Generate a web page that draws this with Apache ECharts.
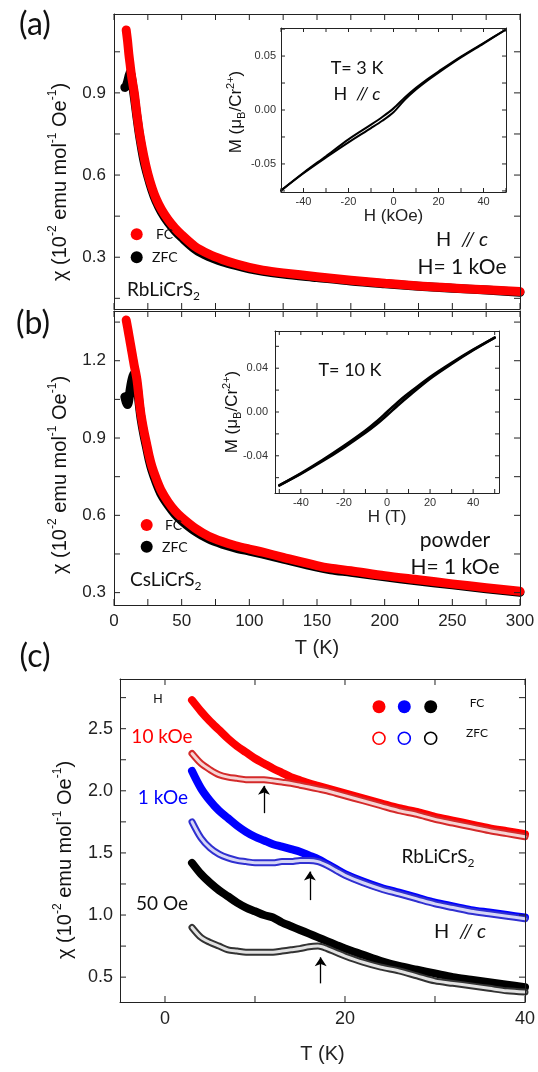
<!DOCTYPE html>
<html>
<head>
<meta charset="utf-8">
<script src="https://cdn.jsdelivr.net/npm/echarts@6/dist/echarts.min.js"></script>
<style>
html,body{margin:0;padding:0;background:#fff;}
#main{width:538px;height:1072px;}
</style>
</head>
<body>
<div id="main"></div>
<script>
// (a) RbLiCrS2, H // c, H = 1 kOe
var aT    = [9,10,11,12,13,14,15,17,19,22,25,28,31,35,40,45,50,60,70,80,90,100,110,125,150,175,200,225,250,275,300];
var aFC   = [1.13,1.09,1.04,1.0,0.96,0.93,0.90,0.82,0.75,0.67,0.605,0.555,0.515,0.475,0.437,0.407,0.382,0.339,0.312,0.292,0.276,0.263,0.253,0.243,0.229,0.216,0.205,0.195,0.188,0.181,0.175];
var aTz   = [8,9,10,11,12,13,14,15,17,19,22,25,28,31,35,40,45,50,60,70,80,90,100,110,125,150,175,200,225,250,275,300];
var aZFC  = [0.92,0.925,0.94,0.96,0.975,0.955,0.92,0.885,0.81,0.74,0.655,0.595,0.545,0.505,0.465,0.427,0.397,0.372,0.329,0.302,0.284,0.27,0.258,0.249,0.239,0.226,0.213,0.203,0.194,0.187,0.18,0.172];
// (a) inset, M-H loop at 3 K
var aH    = [-50,-40,-30,-20,-10,-5,0,5,10,15,20,30,40,50];
var aMup  = [-0.0746,-0.0582,-0.0428,-0.0272,-0.0136,-0.0065,0.0015,0.0115,0.0205,0.0285,0.0357,0.0495,0.0621,0.0746];
var aMdn  = [-0.0747,-0.0586,-0.0440,-0.0300,-0.0168,-0.0100,-0.0020,0.0095,0.0190,0.0272,0.0347,0.0488,0.0616,0.0746];

// (b) CsLiCrS2 powder, H = 1 kOe
var bT    = [9,10,11,12,13,14,15,16,17,18,19,20,22,24,26,28,31,35,40,45,50,60,70,80,90,100,110,125,150,160,175,200,225,250,275,300];
var bFC   = [1.358,1.33,1.30,1.27,1.24,1.21,1.18,1.155,1.125,1.08,1.03,0.99,0.93,0.88,0.83,0.79,0.745,0.695,0.652,0.618,0.592,0.55,0.519,0.498,0.482,0.469,0.457,0.437,0.405,0.395,0.385,0.366,0.35,0.334,0.319,0.305];
var bTz   = [8,9,10,11,12,13,14,15,16,17,18,19,20,22,24,26,28,31,35,40,45,50,60,70,80,90,100,110,125,150,160,175,200,225,250,275,300];
var bZFC  = [1.06,1.04,1.03,1.05,1.09,1.12,1.14,1.15,1.13,1.105,1.06,1.015,0.975,0.915,0.865,0.815,0.775,0.73,0.68,0.639,0.605,0.579,0.538,0.508,0.488,0.473,0.461,0.449,0.430,0.399,0.389,0.379,0.361,0.345,0.33,0.315,0.301];
// (b) inset, M-H at 10 K
var bH    = [-50,-40,-30,-20,-10,-5,0,5,10,20,30,40,50];
var bMup  = [-0.067,-0.056,-0.044,-0.031,-0.017,-0.009,0.0,0.009,0.017,0.032,0.045,0.057,0.068];
var bMdn  = [-0.067,-0.0565,-0.045,-0.0325,-0.019,-0.0115,-0.003,0.006,0.0145,0.0305,0.044,0.0565,0.068];

// (c) RbLiCrS2 low T, three fields
var cT       = [3,4,5,6,7,8,9,10,11,12,13,14,15,16,17,18,19,20,22,24,26,28,30,32,34,36,38,40];
var fc10k    = [2.73,2.64,2.56,2.49,2.42,2.36,2.31,2.26,2.22,2.18,2.145,2.11,2.085,2.06,2.04,2.02,2.0,1.98,1.94,1.90,1.86,1.83,1.79,1.76,1.73,1.70,1.675,1.65];
var zfc10k   = [2.30,2.22,2.17,2.13,2.11,2.10,2.09,2.09,2.09,2.08,2.07,2.06,2.045,2.03,2.015,2.0,1.98,1.96,1.92,1.88,1.84,1.81,1.77,1.74,1.71,1.68,1.655,1.63];
var fc1k     = [2.16,2.02,1.92,1.84,1.78,1.72,1.67,1.63,1.60,1.57,1.55,1.53,1.51,1.48,1.45,1.41,1.37,1.33,1.27,1.22,1.18,1.14,1.10,1.07,1.04,1.02,1.00,0.98];
var zfc1k    = [1.75,1.62,1.54,1.49,1.46,1.44,1.43,1.42,1.42,1.42,1.43,1.43,1.44,1.44,1.43,1.40,1.36,1.32,1.26,1.21,1.17,1.13,1.09,1.06,1.03,1.01,0.99,0.97];
var fc50     = [1.42,1.33,1.26,1.20,1.15,1.10,1.06,1.03,1.00,0.98,0.94,0.91,0.88,0.85,0.82,0.79,0.76,0.73,0.68,0.63,0.59,0.56,0.53,0.50,0.48,0.46,0.44,0.42];
var zfc50    = [0.90,0.82,0.78,0.75,0.72,0.71,0.70,0.70,0.70,0.70,0.71,0.72,0.73,0.745,0.75,0.73,0.70,0.67,0.62,0.58,0.55,0.51,0.47,0.45,0.43,0.41,0.39,0.38];
// transition arrows: T, from, to
var arrowT    = [11, 16.1, 17.3];
var arrowFrom = [1.82, 1.12, 0.45];
var arrowTo   = [2.04, 1.35, 0.66];

// axis ranges
var abXRange  = [0, 300];
var aYRange   = [0.111, 1.188];
var bYRange   = [0.252, 1.393];
var aiXRange  = [-50, 50];
var aiYRange  = [-0.076, 0.076];
var biXRange  = [-52, 52];
var biYRange  = [-0.074, 0.074];
var cXRange   = [-5, 40];
var cYRange   = [0.3, 2.9];

// tick / label positions
var abXTicks  = [0,25,50,75,100,125,150,175,200,225,250,275,300];
var abXLabels = [0,50,100,150,200,250,300];
var aYTicks   = [0.15,0.3,0.45,0.6,0.75,0.9,1.05];
var aYLabels  = [0.3,0.6,0.9];
var bYTicks   = [0.3,0.45,0.6,0.75,0.9,1.05,1.2,1.35];
var bYLabels  = [0.3,0.6,0.9,1.2];
var inXTicks  = [-50,-40,-30,-20,-10,0,10,20,30,40,50];
var inXLabels = [-40,-20,0,20,40];
var aiYTicks  = [-0.075,-0.05,-0.025,0,0.025,0.05,0.075];
var aiYLabels = [-0.05,0,0.05];
var biYTicks  = [-0.06,-0.04,-0.02,0,0.02,0.04,0.06];
var biYLabels = [-0.04,0,0.04];
var cXTicks   = [0,10,20,30,40];
var cXLabels  = [0,20,40];
var cYTicks   = [0.5,0.75,1.0,1.25,1.5,1.75,2.0,2.25,2.5,2.75];
var cYLabels  = [0.5,1.0,1.5,2.0,2.5];

var AX = '#222';
var NUM = 'Liberation Sans';
var ANN = 'Lato';

function pairs(xs, ys) {
    var out = [];
    for (var i = 0; i < xs.length; i++) out.push([xs[i], ys[i]]);
    return out;
}

function ax(grid, pos, range, labels, o) {
    o = o || {};
    var a = {
        type: 'value', gridIndex: grid, position: pos, min: range[0], max: range[1], z: 10,
        axisLine: {show: true, onZero: false, lineStyle: {color: AX, width: 1}},
        axisTick: {show: false},
        axisLabel: {show: !!labels, margin: o.m || 8, fontSize: o.fs || 17, color: o.lc || AX, fontFamily: NUM,
                    formatter: o.fmt || function (v) { return String(v); }},
        splitLine: {show: false}
    };
    if (labels) a.axisLabel.customValues = labels;
    if (o.name) {
        a.name = o.name;
        a.nameLocation = 'middle';
        a.nameGap = o.ng;
        a.nameTextStyle = {fontSize: o.nfs || 20, fontFamily: NUM, color: AX};
    }
    return a;
}

function f1(v) { return v.toFixed(1); }
function f2(v) { return v.toFixed(2); }

var xAxes = [
    ax(0, 'bottom', abXRange, null),
    ax(0, 'top', abXRange, null),
    ax(1, 'bottom', aiXRange, inXLabels, {fs: 11, m: 4, lc: '#333', name: 'H (kOe)', ng: 15, nfs: 17}),
    ax(1, 'top', aiXRange, null),
    ax(2, 'bottom', abXRange, abXLabels, {m: 8, name: 'T (K)', ng: 33}),
    ax(2, 'top', abXRange, null),
    ax(3, 'bottom', biXRange, inXLabels, {fs: 11, m: 4, lc: '#333', name: 'H (T)', ng: 15, nfs: 17}),
    ax(3, 'top', biXRange, null),
    ax(4, 'bottom', cXRange, cXLabels, {m: 8, fs: 18, name: 'T (K)', ng: 42}),
    ax(4, 'top', cXRange, null)
];
var yAxes = [
    ax(0, 'left', aYRange, aYLabels, {fmt: f1}),
    ax(0, 'right', aYRange, null),
    ax(1, 'left', aiYRange, aiYLabels, {fs: 11, m: 5, lc: '#333', fmt: f2}),
    ax(1, 'right', aiYRange, null),
    ax(2, 'left', bYRange, bYLabels, {fmt: f1}),
    ax(2, 'right', bYRange, null),
    ax(3, 'left', biYRange, biYLabels, {fs: 11, m: 7, lc: '#333', fmt: f2}),
    ax(3, 'right', biYRange, null),
    ax(4, 'left', cYRange, cYLabels, {fs: 18, m: 7, fmt: f1}),
    ax(4, 'right', cYRange, null)
];

function thick(name, xi, data, color, w, z) {
    return {name: name, type: 'line', xAxisIndex: xi, yAxisIndex: xi, data: data,
            smooth: 0.3,
            symbol: 'none', z: z || 2, silent: true,
            lineStyle: {color: color, width: w, cap: 'round', join: 'round'}};
}

// inward tick marks on one side of a frame, placed through the axes' own scales
function ticks(ai, vals, side, len, xr, yr) {
    var data = [];
    for (var i = 0; i < vals.length; i++) data.push([vals[i], vals[i]]);
    return {
        type: 'custom', name: 'ticks', xAxisIndex: ai, yAxisIndex: ai, silent: true, z: 10, clip: false,
        data: data,
        renderItem: function (params, api) {
            var v = api.value(0), p, q;
            if (side === 'bottom') { p = api.coord([v, yr[0]]); q = [p[0], p[1] - len]; }
            else if (side === 'top') { p = api.coord([v, yr[1]]); q = [p[0], p[1] + len]; }
            else if (side === 'left') { p = api.coord([xr[0], v]); q = [p[0] + len, p[1]]; }
            else { p = api.coord([xr[1], v]); q = [p[0] - len, p[1]]; }
            return {type: 'line', shape: {x1: p[0], y1: p[1], x2: q[0], y2: q[1]},
                    style: {stroke: AX, lineWidth: 1}};
        }
    };
}

function frameTicks(ai, xt, yt, len, xr, yr) {
    return [
        ticks(ai, xt, 'bottom', len, xr, yr),
        ticks(ai, xt, 'top', len, xr, yr),
        ticks(ai, yt, 'left', len, xr, yr),
        ticks(ai, yt, 'right', len, xr, yr)
    ];
}

var arrows = [];
for (var i = 0; i < arrowT.length; i++) {
    arrows.push([{coord: [arrowT[i], arrowFrom[i]]}, {coord: [arrowT[i], arrowTo[i]]}]);
}

var series = [
    thick('ZFC', 0, pairs(aTz, aZFC), '#000', 9, 2),
    thick('FC', 0, pairs(aT, aFC), '#ff0000', 9, 3),
    thick('M up a', 2, pairs(aH, aMup), '#000', 2, 5),
    thick('M down a', 2, pairs(aH, aMdn), '#000', 2, 5),
    thick('ZFC', 4, pairs(bTz, bZFC), '#000', 9, 2),
    thick('FC', 4, pairs(bT, bFC), '#ff0000', 9, 3),
    thick('M up b', 6, pairs(bH, bMup), '#000', 2.6, 5),
    thick('M down b', 6, pairs(bH, bMdn), '#000', 2.6, 5),
    thick('FC 10 kOe', 8, pairs(cT, fc10k), '#ff0000', 8, 2),
    thick('ZFC 10 kOe', 8, pairs(cT, zfc10k), '#d42a2a', 7, 3),
    thick('ZFC 10 kOe in', 8, pairs(cT, zfc10k), '#f6d4d4', 3, 4),
    thick('FC 1 kOe', 8, pairs(cT, fc1k), '#0000ff', 8, 2),
    thick('ZFC 1 kOe', 8, pairs(cT, zfc1k), '#3030d0', 7, 3),
    thick('ZFC 1 kOe in', 8, pairs(cT, zfc1k), '#d6d6f6', 3, 4),
    thick('FC 50 Oe', 8, pairs(cT, fc50), '#000', 8, 2),
    thick('ZFC 50 Oe', 8, pairs(cT, zfc50), '#333', 7, 3),
    thick('ZFC 50 Oe in', 8, pairs(cT, zfc50), '#e2e2e2', 3, 4)
];
series[series.length - 1].markLine = {
    silent: true, symbol: ['none', 'arrow'], symbolSize: 9, animation: false,
    label: {show: false},
    lineStyle: {color: '#000', width: 1.3, type: 'solid'},
    data: arrows
};
series = series.concat(
    frameTicks(0, abXTicks, aYTicks, 6, abXRange, aYRange),
    frameTicks(2, inXTicks, aiYTicks, 4, aiXRange, aiYRange),
    frameTicks(4, abXTicks, bYTicks, 6, abXRange, bYRange),
    frameTicks(6, inXTicks, biYTicks, 4, biXRange, biYRange),
    frameTicks(8, cXTicks, cYTicks, 6, cXRange, cYRange)
);

function txt(x, y, text, size, o) {
    o = o || {};
    var st = {
        text: text, fontSize: size, fontFamily: o.ff || ANN, fill: o.color || '#111',
        align: o.align || 'center', textAlign: o.align || 'center',
        verticalAlign: 'middle', textVerticalAlign: 'middle'
    };
    if (o.rich) st.rich = o.rich;
    var e = {type: 'text', x: x, y: y, z: 100, silent: true, style: st};
    if (o.rot) e.rotation = o.rot;
    return e;
}

function dot(x, y, r, color, open) {
    return {type: 'circle', z: 100, silent: true, shape: {cx: x, cy: y, r: r},
            style: open ? {fill: '#fff', stroke: color, lineWidth: 1.6} : {fill: color}};
}

function richChem(size) {
    return {n: {fontSize: size, fontFamily: ANN, fill: '#111', lineHeight: size + 6},
            sub: {fontSize: Math.round(size * 0.62), fontFamily: ANN, fill: '#111', lineHeight: Math.round(size * 0.62), verticalAlign: 'bottom'}};
}
function richHc(size) {
    return {n: {fontSize: size, fontFamily: ANN, fill: '#111'},
            i: {fontSize: size, fontFamily: ANN, fill: '#111', fontStyle: 'italic'}};
}
var chiRich = {
    n: {fontSize: 20, fontFamily: NUM, fill: '#111', lineHeight: 26},
    s: {fontSize: 12, fontFamily: NUM, fill: '#111', lineHeight: 14, verticalAlign: 'top'}
};
var chiText = '{n|\u03c7 (10}{s|-2}{n| emu mol}{s|-1}{n| Oe}{s|-1}{n|)}';
var mRich = {
    n: {fontSize: 17, fontFamily: NUM, fill: '#111', lineHeight: 22},
    sub: {fontSize: 11, fontFamily: NUM, fill: '#111', lineHeight: 10, verticalAlign: 'bottom'},
    sup: {fontSize: 11, fontFamily: NUM, fill: '#111', lineHeight: 10, verticalAlign: 'top'}
};
var mText = '{n|M (\u03bc}{sub|B}{n|/Cr}{sup|2+}{n|)}';
var R = Math.PI / 2;

var graphics = [
    txt(35, 25, '(a)', 32),
    txt(33, 324, '(b)', 32),
    txt(35, 657, '(c)', 32),
    txt(60, 182, chiText, 20, {rich: chiRich, rot: R}),
    txt(60, 475, chiText, 20, {rich: chiRich, rot: R}),
    txt(65, 860, chiText, 20, {rich: chiRich, rot: R}),
    txt(236, 112, mText, 17, {rich: mRich, rot: R}),
    txt(232, 412, mText, 17, {rich: mRich, rot: R}),
    // (a)
    dot(136.7, 234.3, 6, '#ff0000'), dot(136.7, 257.3, 6, '#000'),
    txt(156, 234, 'FC', 14, {align: 'left'}),
    txt(152, 257, 'ZFC', 14, {align: 'left'}),
    txt(127, 290, '{n|RbLiCrS}{sub|2}', 19, {align: 'left', rich: richChem(19)}),
    txt(357, 68, 'T= 3 K', 18),
    txt(357, 94, '{n|H  }{i|// c}', 18, {rich: richHc(18)}),
    txt(462, 240, '{n|H  }{i|// c}', 20, {rich: richHc(20)}),
    txt(462, 267, 'H= 1 kOe', 21),
    // (b)
    dot(146.7, 525, 6, '#ff0000'), dot(146.7, 546.7, 6, '#000'),
    txt(165, 525, 'FC', 14, {align: 'left'}),
    txt(162, 547, 'ZFC', 14, {align: 'left'}),
    txt(130, 580, '{n|CsLiCrS}{sub|2}', 19, {align: 'left', rich: richChem(19)}),
    txt(350, 370, 'T= 10 K', 18),
    txt(455, 540, 'powder', 21),
    txt(455, 567, 'H= 1 kOe', 21),
    // (c)
    txt(158, 699, 'H', 13, {ff: NUM}),
    txt(162, 737, '10 kOe', 19, {color: '#ff0000'}),
    txt(163, 798, '1 kOe', 19, {color: '#0000ff'}),
    txt(162, 904, '50 Oe', 19),
    dot(379, 706.7, 6.5, '#ff0000'), dot(404.3, 706.7, 6.5, '#0000ff'), dot(430.7, 706.7, 6.5, '#000'),
    dot(379, 738.3, 6, '#ff0000', true), dot(404.3, 738.3, 6, '#0000ff', true), dot(430.7, 738.3, 6, '#000', true),
    txt(477, 703, 'FC', 12),
    txt(477, 733, 'ZFC', 12),
    txt(438, 857, '{n|RbLiCrS}{sub|2}', 19, {rich: richChem(19)}),
    txt(460, 932, '{n|H  }{i|// c}', 20, {rich: richHc(20)})
];

var option = {
    animation: false,
    backgroundColor: '#fff',
    grid: [
        {left: 114, top: 14, width: 406, height: 295},
        {left: 281, top: 28, width: 225, height: 164, show: true, backgroundColor: '#fff', borderWidth: 0, z: 4},
        {left: 114, top: 311, width: 406, height: 294},
        {left: 275, top: 331, width: 224, height: 162, show: true, backgroundColor: '#fff', borderWidth: 0, z: 4},
        {left: 120, top: 679, width: 407, height: 323}
    ],
    xAxis: xAxes,
    yAxis: yAxes,
    series: series,
    graphic: graphics
};

var myChart = echarts.init(document.getElementById('main'), null, {renderer: 'canvas'});
myChart.setOption(option);
</script>
</body>
</html>
